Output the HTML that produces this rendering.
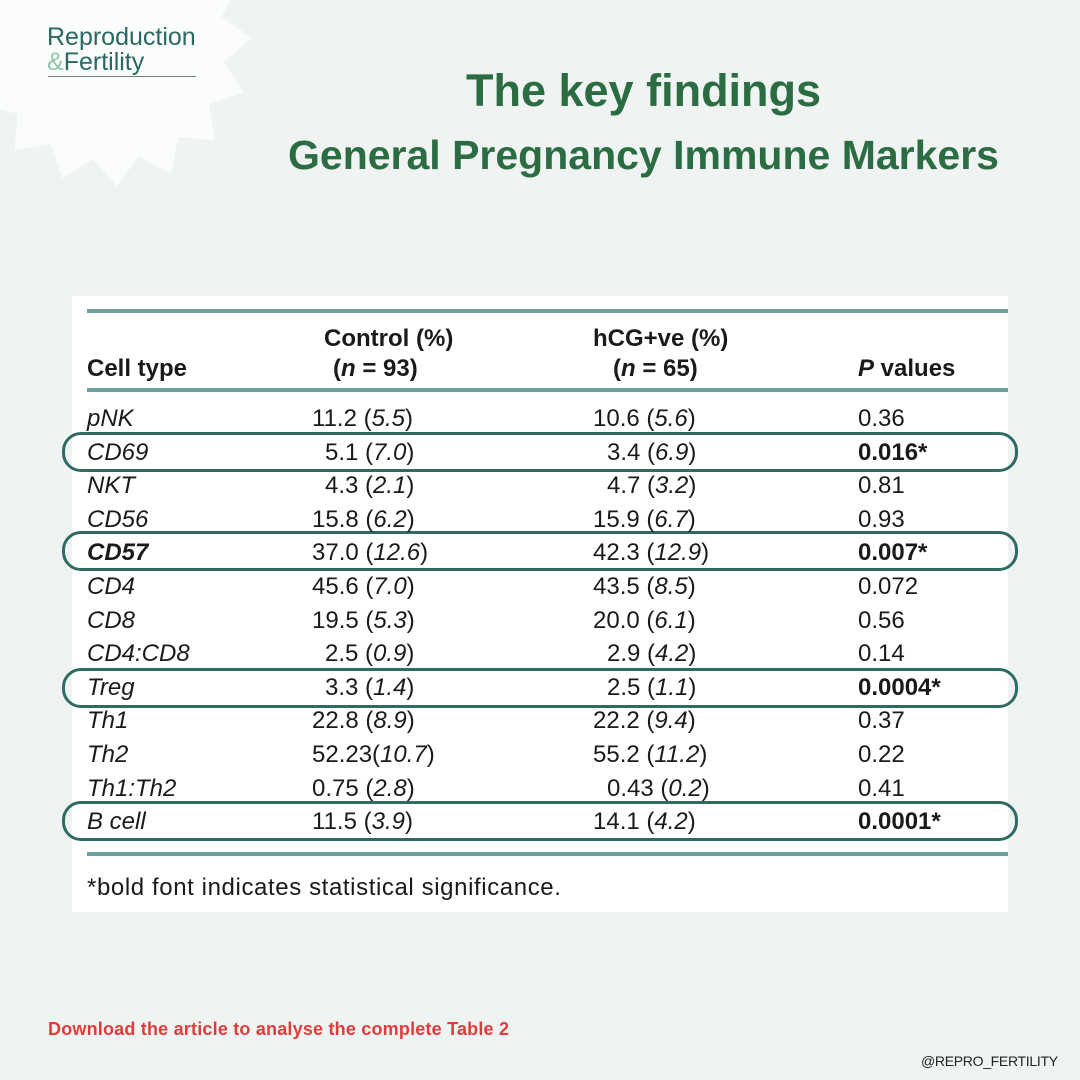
<!DOCTYPE html>
<html><head><meta charset="utf-8"><style>
body{margin:0;width:1080px;height:1080px;overflow:hidden;background:#eff4f2;position:relative;font-family:"Liberation Sans",sans-serif}
.a{position:absolute;white-space:nowrap}
.t{position:absolute;white-space:nowrap;font-size:24px;line-height:30px;color:#1a1a1a}
i{font-style:italic}
.line{position:absolute;left:87px;width:921px;height:4px;background:#6e9f9c}
.ov{position:absolute;left:62px;width:950px;height:34px;border:3px solid #2f6a64;border-radius:19px}
</style></head><body>
<svg class="a" style="left:0;top:0" width="300" height="260">
<polygon id="st" fill="#fbfcfc" points=""/>
</svg>
<script>
var p=[],cx=110,cy=45,n=16;for(var k=0;k<2*n;k++){var r=k%2?115:142,a=k*Math.PI/n-0.05;p.push((cx+r*Math.cos(a)).toFixed(1)+","+(cy+r*Math.sin(a)).toFixed(1));}
document.getElementById('st').setAttribute('points',p.join(' '));
</script>
<div class="a" style="left:47px;top:25px;font-size:25px;color:#2a6963;line-height:25px">Reproduction<br><span style="color:#8fc7a4">&amp;</span>Fertility</div>
<div class="a" style="left:48px;top:76px;width:148px;height:1px;background:#6a7f7a"></div>
<div class="a" style="left:466px;top:65px;font-size:45px;font-weight:bold;color:#2b6c42">The key findings</div>
<div class="a" style="left:288px;top:132px;font-size:41px;font-weight:bold;color:#2b6c42">General Pregnancy Immune Markers</div>
<div class="a" style="left:72px;top:296px;width:936px;height:616px;background:#fff"></div>
<div class="line" style="top:309px"></div>
<div class="line" style="top:388px"></div>
<div class="line" style="top:852px"></div>
<div class="t" style="left:87px;top:354px;font-weight:bold">Cell type</div>
<div class="t" style="left:324px;top:324px;font-weight:bold">Control (%)</div>
<div class="t" style="left:333px;top:354px;font-weight:bold">(<i>n</i> = 93)</div>
<div class="t" style="left:593px;top:324px;font-weight:bold">hCG+ve (%)</div>
<div class="t" style="left:613px;top:354px;font-weight:bold">(<i>n</i> = 65)</div>
<div class="t" style="left:858px;top:354px;font-weight:bold"><i>P</i> values</div>
<div class="ov" style="top:432px"></div>
<div class="ov" style="top:531px"></div>
<div class="ov" style="top:668px"></div>
<div class="ov" style="top:801px"></div>
<div id="rows"></div>
<script>
var R=[["pNK","11.2","5.5",0,"10.6","5.6",0,"0.36",0],
["CD69","5.1","7.0",1,"3.4","6.9",1,"0.016*",1],
["NKT","4.3","2.1",1,"4.7","3.2",1,"0.81",0],
["CD56","15.8","6.2",0,"15.9","6.7",0,"0.93",0],
["<b>CD57</b>","37.0","12.6",0,"42.3","12.9",0,"0.007*",1],
["CD4","45.6","7.0",0,"43.5","8.5",0,"0.072",0],
["CD8","19.5","5.3",0,"20.0","6.1",0,"0.56",0],
["CD4:CD8","2.5","0.9",1,"2.9","4.2",1,"0.14",0],
["Treg","3.3","1.4",1,"2.5","1.1",1,"0.0004*",1],
["Th1","22.8","8.9",0,"22.2","9.4",0,"0.37",0],
["Th2","52.23","10.7",0,"55.2","11.2",0,"0.22",0],
["Th1:Th2","0.75","2.8",0,"0.43","0.2",1,"0.41",0],
["B cell","11.5","3.9",0,"14.1","4.2",0,"0.0001*",1]];
var h="";R.forEach(function(r,k){var y=404+k*33.6;
h+='<div class="t" style="left:87px;top:'+y+'px"><i>'+r[0]+'</i></div>';
var sp=r[1]=="52.23"?"":" ";
h+='<div class="t" style="left:'+(r[3]?325:312)+'px;top:'+y+'px">'+r[1]+sp+'(<i>'+r[2]+'</i>)</div>';
h+='<div class="t" style="left:'+(r[6]?607:593)+'px;top:'+y+'px">'+r[4]+' (<i>'+r[5]+'</i>)</div>';
h+='<div class="t" style="left:858px;top:'+y+'px;'+(r[8]?'font-weight:bold':'')+'">'+r[7]+'</div>';});
document.getElementById('rows').innerHTML=h;
</script>
<div class="t" style="left:87px;top:873px;font-size:24px;letter-spacing:0.6px">*bold font indicates statistical significance.</div>
<div class="a" style="left:48px;top:1019px;font-size:18px;font-weight:bold;color:#e03c3c;letter-spacing:0.2px">Download the article to analyse the complete Table 2</div>
<div class="a" style="left:921px;top:1053px;font-size:14px;color:#222;letter-spacing:-0.3px">@REPRO_FERTILITY</div>
</body></html>
